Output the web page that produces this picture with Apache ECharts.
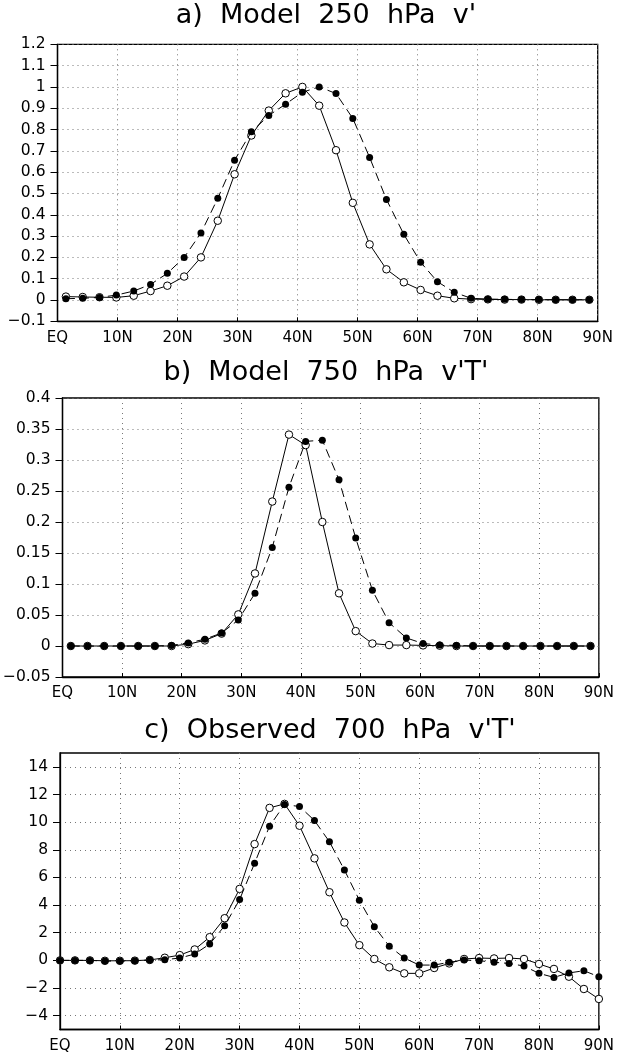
<!DOCTYPE html>
<html><head><meta charset="utf-8">
<script src="https://cdn.jsdelivr.net/npm/echarts@6/dist/echarts.min.js"></script>
<style>html,body{margin:0;padding:0;background:#fff}#c{width:617px;height:1061px}</style>
</head><body><div id="c"></div>
<script>
const titles = ["a)  Model  250  hPa  v'", "b)  Model  750  hPa  v'T'", "c)  Observed  700  hPa  v'T'"];
const latTicks = [0, 10, 20, 30, 40, 50, 60, 70, 80, 90];
const latTickLabels = ['EQ', '10N', '20N', '30N', '40N', '50N', '60N', '70N', '80N', '90N'];

const latModel = [1.4, 4.2, 7.0, 9.8, 12.7, 15.5, 18.3, 21.1, 23.9, 26.7, 29.5, 32.3, 35.2, 38.0, 40.8, 43.6,
  46.4, 49.2, 52.0, 54.8, 57.7, 60.5, 63.3, 66.1, 68.9, 71.7, 74.5, 77.3, 80.2, 83.0, 85.8, 88.6];
const latObs = [0, 2.5, 5, 7.5, 10, 12.5, 15, 17.5, 20, 22.5, 25, 27.5, 30, 32.5, 35, 37.5, 40, 42.5, 45,
  47.5, 50, 52.5, 55, 57.5, 60, 62.5, 65, 67.5, 70, 72.5, 75, 77.5, 80, 82.5, 85, 87.5, 90];

const aOpen = [0.016, 0.014, 0.013, 0.012, 0.02, 0.042, 0.067, 0.11, 0.2, 0.372, 0.59, 0.772, 0.889, 0.97, 1.0, 0.912,
  0.703, 0.456, 0.261, 0.144, 0.083, 0.047, 0.02, 0.008, 0.004, 0.003, 0.002, 0.002, 0.001, 0.001, 0.001, 0.001];
const aFilled = [0.006, 0.008, 0.012, 0.023, 0.042, 0.073, 0.125, 0.2, 0.314, 0.477, 0.656, 0.789, 0.866, 0.919, 0.975, 1.0,
  0.969, 0.852, 0.669, 0.472, 0.308, 0.177, 0.086, 0.036, 0.008, 0.004, 0.003, 0.002, 0.002, 0.001, 0.001, 0.001];

const bOpen = [0, 0, 0, 0, 0, 0, 0, 0.003, 0.009, 0.02, 0.051, 0.117, 0.233, 0.341, 0.324, 0.2,
  0.085, 0.024, 0.004, 0.0015, 0.0015, 0.001, 0.0005, 0, 0, 0, 0, 0, 0, 0, 0, 0];
const bFilled = [0, 0, 0, 0, 0, 0, 0.001, 0.005, 0.011, 0.021, 0.042, 0.085, 0.159, 0.256, 0.33, 0.332,
  0.268, 0.174, 0.09, 0.0376, 0.013, 0.004, 0.0015, 0.001, 0, 0, 0, 0, 0, 0, 0, 0];

const cOpen = [0, 0, 0, -0.03, -0.03, -0.02, 0.03, 0.19, 0.38, 0.79, 1.68, 3.05, 5.17, 8.41, 11.03, 11.32, 9.74, 7.38, 4.93,
  2.74, 1.1, 0.1, -0.5, -0.94, -0.94, -0.55, -0.22, 0.1, 0.17, 0.14, 0.17, 0.1, -0.26, -0.62, -1.18, -2.07, -2.79];
const cFilled = [0, 0, 0, -0.05, -0.05, -0.02, 0.02, 0.05, 0.17, 0.46, 1.18, 2.5, 4.4, 7.02, 9.71, 11.27, 11.13, 10.12, 8.58,
  6.54, 4.35, 2.43, 1.03, 0.17, -0.34, -0.34, -0.14, 0.02, -0.02, -0.14, -0.22, -0.41, -0.94, -1.23, -0.91, -0.75, -1.18];

const cTickValues = [-4, -2, 0, 2, 4, 6, 8, 10, 12, 14];

const FONT = 'DejaVu Sans';
const grids = [
  {left: 57.5, right: 19.3, top: 44.3, height: 277},
  {left: 59, right: 16.5, top: 398, height: 279},
  {left: 60, right: 15.3, top: 753, height: 276.5}
];
// overlay grid for panel c gridlines: spans -4..14 of the -5..15 range
const gC = grids[2];
const overlayGrid = {left: gC.left, right: gC.right, top: gC.top + gC.height / 20, height: gC.height * 18 / 20, show: false};
const titleY = [16, 373, 731];
const titleX = [326, 326, 330];

function fmtNum(v) {
  const r = Math.round(v * 100) / 100;
  return (r === 0 ? '0' : String(r)).replace('-', '\u2212');
}
const dotted = {color: '#777', width: 1, type: [1, 4]};

const xAxes = grids.map((g, i) => ({
  type: 'value', gridIndex: i, min: 0, max: 90, interval: 10,
  axisLine: {show: true, onZero: false, lineStyle: {color: '#000', width: 1.3}},
  axisTick: {show: true, inside: true, length: 4, lineStyle: {color: '#000'}},
  axisLabel: {color: '#000', fontFamily: FONT, fontSize: 15, margin: 9,
    formatter: v => latTickLabels[latTicks.indexOf(Math.round(v))] || ''},
  splitLine: {show: true, lineStyle: dotted}
}));
xAxes.push({type: 'value', gridIndex: 3, min: 0, max: 90, show: false, splitLine: {show: false}});

const yBase = {
  type: 'value',
  axisLine: {show: true, onZero: false, lineStyle: {color: '#000', width: 1.3}},
  axisTick: {show: true, inside: false, length: 7, lineStyle: {color: '#000'}},
  axisLabel: {color: '#000', fontFamily: FONT, fontSize: 15.5, margin: 12, formatter: fmtNum},
  splitLine: {show: true, lineStyle: dotted}
};
const yAxes = [
  Object.assign({}, yBase, {gridIndex: 0, min: -0.1, max: 1.2, interval: 0.1}),
  Object.assign({}, yBase, {gridIndex: 1, min: -0.05, max: 0.4, interval: 0.05}),
  Object.assign({}, yBase, {gridIndex: 2, min: -5, max: 15, interval: 1,
    splitLine: {show: false},
    axisTick: Object.assign({}, yBase.axisTick, {customValues: cTickValues}),
    axisLabel: Object.assign({}, yBase.axisLabel, {customValues: cTickValues})}),
  {type: 'value', gridIndex: 3, min: cTickValues[0], max: cTickValues[cTickValues.length - 1], interval: 2,
    axisLine: {show: false}, axisTick: {show: false}, axisLabel: {show: false},
    splitLine: {show: true, lineStyle: dotted}}
];

function openSeries(i, lats, vals) {
  return {type: 'line', xAxisIndex: i, yAxisIndex: i, data: lats.map((x, k) => [x, vals[k]]),
    symbol: 'circle', symbolSize: 7.5, showSymbol: true, z: 3,
    lineStyle: {color: '#000', width: 1, type: 'solid'},
    itemStyle: {color: '#fff', borderColor: '#000', borderWidth: 1}, animation: false};
}
function filledSeries(i, lats, vals) {
  return {type: 'line', xAxisIndex: i, yAxisIndex: i, data: lats.map((x, k) => [x, vals[k]]),
    symbol: 'circle', symbolSize: 7, showSymbol: true, z: 4,
    lineStyle: {color: '#000', width: 1, type: [9, 5]},
    itemStyle: {color: '#000', borderColor: '#000', borderWidth: 0}, animation: false};
}

const chart = echarts.init(document.getElementById('c'), null, {renderer: 'canvas'});
chart.setOption({
  backgroundColor: '#fff',
  animation: false,
  grid: grids.map(g => Object.assign({show: true, borderColor: '#000', borderWidth: 1.3, backgroundColor: 'transparent'}, g))
    .concat([overlayGrid]),
  xAxis: xAxes,
  yAxis: yAxes,
  graphic: titles.map((t, i) => ({type: 'text', x: titleX[i], y: titleY[i],
    style: {text: t, fill: '#000', font: '27px "DejaVu Sans"', align: 'center', verticalAlign: 'middle'}})),
  series: [
    openSeries(0, latModel, aOpen), filledSeries(0, latModel, aFilled),
    openSeries(1, latModel, bOpen), filledSeries(1, latModel, bFilled),
    openSeries(2, latObs, cOpen), filledSeries(2, latObs, cFilled)
  ]
});
</script></body></html>
